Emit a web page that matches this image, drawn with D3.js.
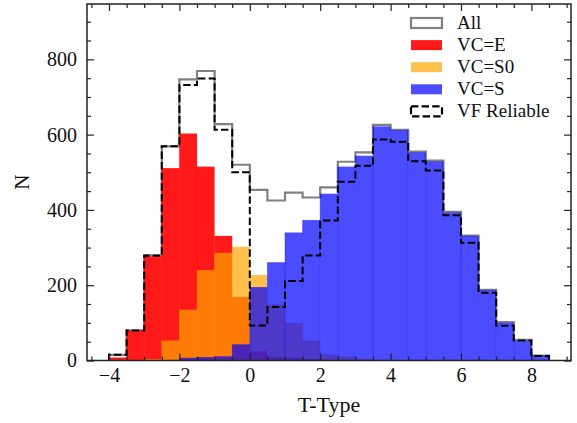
<!DOCTYPE html>
<html>
<head>
<meta charset="utf-8">
<script src="https://cdn.jsdelivr.net/npm/d3@7"></script>
<style>
  body { margin: 0; background: #fff; }
  svg { display: block; font-family: "Liberation Serif", serif; }
  svg text { font-family: "Liberation Serif", serif; }
</style>
</head>
<body>
<svg id="chart" width="577" height="423"></svg>
<script>
// histogram bins (left edges), width 0.5
const binStarts = [-4, -3.5, -3, -2.5, -2, -1.5, -1, -0.5, 0, 0.5, 1, 1.5, 2,
  2.5, 3, 3.5, 4, 4.5, 5, 5.5, 6, 6.5, 7, 7.5, 8];
const binWidth = 0.5;

const allCounts = [15, 80, 280, 569, 747, 769, 628, 520, 453, 425, 446, 433, 460,
  528, 553, 626, 613, 555, 531, 395, 332, 188, 102, 55, 13];
const vfCounts = [15, 80, 278, 569, 732, 749, 613, 500, 93, 142, 211, 279, 372,
  475, 517, 587, 581, 529, 505, 386, 313, 180, 92, 53, 12];
const eCounts = [8, 80, 277, 511, 603, 515, 331, 169, 25, 9, 7, 4, 2,
  0, 0, 0, 0, 0, 0, 0, 0, 0, 0, 0, 0];
const s0Counts = [0, 0, 4, 53, 135, 240, 286, 302, 227, 149, 100, 53, 16,
  11, 5, 0, 0, 0, 0, 0, 0, 0, 0, 0, 0];
const sCounts = [0, 0, 0, 0, 7, 9, 11, 43, 195, 261, 340, 373, 443,
  515, 544, 622, 612, 553, 529, 393, 331, 187, 100, 53, 13];

const xMajor = [-4, -2, 0, 2, 4, 6, 8];
const yMajor = [0, 200, 400, 600, 800];
const legendLabels = ["All", "VC=E", "VC=S0", "VC=S", "VF Reliable"];

const svg = d3.select("#chart");
const width = +svg.attr("width");
const height = +svg.attr("height");
const margin = { top: 4, right: 6, bottom: 62.5, left: 87 };
const serif = "Liberation Serif";

const x = d3
  .scaleLinear()
  .domain([-4.625, 9.125])
  .range([margin.left, width - margin.right]);
const y = d3
  .scaleLinear()
  .domain([0, 947])
  .range([height - margin.bottom, margin.top]);

const plot = svg.append("g");

// gray "All" outline
function stepPoints(counts) {
  const last = binStarts.length - 1;
  return [[binStarts[0], 0]]
    .concat(binStarts.map((s, i) => [s, counts[i]]))
    .concat([[binStarts[last] + binWidth, counts[last]], [binStarts[last] + binWidth, 0]]);
}
const step = d3
  .line()
  .x((d) => x(d[0]))
  .y((d) => y(d[1]))
  .curve(d3.curveStepAfter);

plot
  .append("path")
  .attr("d", step(stepPoints(allCounts)))
  .attr("fill", "none")
  .attr("stroke", "#808080")
  .attr("stroke-width", 2.2);

function drawBars(counts, color, alpha) {
  const rows = binStarts
    .map((s, i) => ({ s, n: counts[i] }))
    .filter((d) => d.n > 0);
  const g = plot.append("g");
  g.selectAll("rect")
    .data(rows)
    .join("rect")
    .attr("x", (d) => x(d.s))
    .attr("width", (d) => x(d.s + binWidth) - x(d.s))
    .attr("y", (d) => y(d.n))
    .attr("height", (d) => y(0) - y(d.n))
    .attr("fill", color)
    .attr("fill-opacity", alpha);
  // faint bar edges like the original
  g.selectAll("line")
    .data(rows)
    .join("line")
    .attr("x1", (d) => x(d.s))
    .attr("x2", (d) => x(d.s))
    .attr("y1", (d) => y(d.n))
    .attr("y2", y(0))
    .attr("stroke", color)
    .attr("stroke-opacity", alpha * 0.6)
    .attr("stroke-width", 0.8);
}

drawBars(eCounts, "#ff0000", 0.9);
drawBars(s0Counts, "#ffa500", 0.7);
drawBars(sCounts, "#0000ff", 0.7);

plot
  .append("path")
  .attr("d", step(stepPoints(vfCounts)))
  .attr("fill", "none")
  .attr("stroke", "#000")
  .attr("stroke-width", 2)
  .attr("stroke-dasharray", "7.4,3.2");

// axes, ticks pointing inward on every side
const xMinor = d3.range(-4.5, 9.01, 0.5).filter((v) => !xMajor.includes(v));
const yMinor = d3.range(0, 947, 50).filter((v) => !yMajor.includes(v));

function styleAxis(g) {
  g.attr("font-family", serif).attr("font-size", 20);
  g.select(".domain").remove();
  g.selectAll("line").attr("stroke", "#222").attr("stroke-width", 1.2);
  g.selectAll("text")
    .attr("fill", "#111")
    .attr("font-family", serif)
    .style("font-family", serif)
    .style("font-size", "20px");
}

const y0 = height - margin.bottom;
const x1 = width - margin.right;

svg.append("g").attr("transform", `translate(0,${y0})`)
  .call(d3.axisBottom(x).tickValues(xMajor).tickSize(-7).tickPadding(7))
  .call(styleAxis);
svg.append("g").attr("transform", `translate(0,${y0})`)
  .call(d3.axisBottom(x).tickValues(xMinor).tickSize(-4).tickFormat(""))
  .call(styleAxis);
svg.append("g").attr("transform", `translate(0,${margin.top})`)
  .call(d3.axisTop(x).tickValues(xMajor).tickSize(-7).tickFormat(""))
  .call(styleAxis);
svg.append("g").attr("transform", `translate(0,${margin.top})`)
  .call(d3.axisTop(x).tickValues(xMinor).tickSize(-4).tickFormat(""))
  .call(styleAxis);

svg.append("g").attr("transform", `translate(${margin.left},0)`)
  .call(d3.axisLeft(y).tickValues(yMajor).tickSize(-7).tickPadding(10).tickFormat(d3.format("d")))
  .call(styleAxis);
svg.append("g").attr("transform", `translate(${margin.left},0)`)
  .call(d3.axisLeft(y).tickValues(yMinor).tickSize(-4).tickFormat(""))
  .call(styleAxis);
svg.append("g").attr("transform", `translate(${x1},0)`)
  .call(d3.axisRight(y).tickValues(yMajor).tickSize(-7).tickFormat(""))
  .call(styleAxis);
svg.append("g").attr("transform", `translate(${x1},0)`)
  .call(d3.axisRight(y).tickValues(yMinor).tickSize(-4).tickFormat(""))
  .call(styleAxis);

svg.append("rect")
  .attr("x", margin.left)
  .attr("y", margin.top)
  .attr("width", x1 - margin.left)
  .attr("height", y0 - margin.top)
  .attr("fill", "none")
  .attr("stroke", "#222")
  .attr("stroke-width", 1.5);

// axis labels
svg.append("text")
  .attr("x", (margin.left + x1) / 2)
  .attr("y", 412)
  .attr("text-anchor", "middle")
  .attr("fill", "#111")
  .style("font-size", "22px")
  .text("T-Type");
svg.append("text")
  .attr("transform", `translate(29,${(margin.top + y0) / 2}) rotate(-90)`)
  .attr("text-anchor", "middle")
  .attr("fill", "#111")
  .style("font-size", "21px")
  .text("N");

// legend
const legendStyles = [
  { fill: "#fff", fillOpacity: 1, stroke: "#808080", dash: null },
  { fill: "#ff0000", fillOpacity: 0.9, stroke: "none", dash: null },
  { fill: "#ffa500", fillOpacity: 0.7, stroke: "none", dash: null },
  { fill: "#0000ff", fillOpacity: 0.7, stroke: "none", dash: null },
  { fill: "#fff", fillOpacity: 1, stroke: "#000", dash: "7.4,3.2" },
];
const legend = svg.append("g").attr("transform", "translate(411,23)");
const item = legend
  .selectAll("g")
  .data(legendLabels)
  .join("g")
  .attr("transform", (d, i) => `translate(0,${i * 22.1})`);
item.append("rect")
  .attr("x", 0)
  .attr("y", -5)
  .attr("width", 31)
  .attr("height", 10)
  .attr("fill", (d, i) => legendStyles[i].fill)
  .attr("fill-opacity", (d, i) => legendStyles[i].fillOpacity)
  .attr("stroke", (d, i) => legendStyles[i].stroke)
  .attr("stroke-width", 2.2)
  .attr("stroke-dasharray", (d, i) => legendStyles[i].dash);
item.append("text")
  .attr("x", 46)
  .attr("y", 5.5)
  .attr("fill", "#111")
  .style("font-size", "19px")
  .text((d) => d);
</script>
</body>
</html>
